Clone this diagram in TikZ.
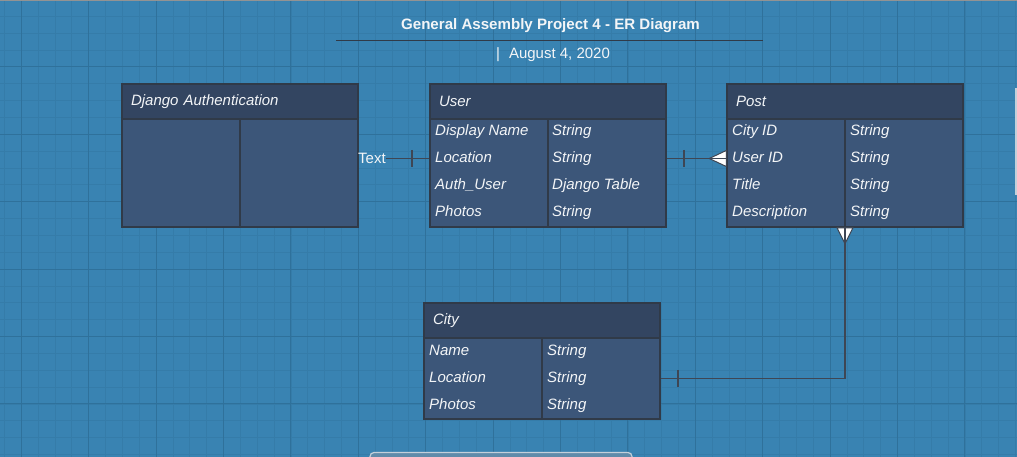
\documentclass[tikz,border=0pt]{standalone}
\usepackage{fontspec}
\setmainfont{Liberation Sans}

\definecolor{bgblue}{RGB}{57,131,178}
\definecolor{gridminor}{RGB}{53,124,169}
\definecolor{gridmajor}{RGB}{47,113,155}
\definecolor{hdrfill}{RGB}{51,69,97}
\definecolor{bodyfill}{RGB}{60,86,121}
\definecolor{tblline}{RGB}{48,58,72}
\definecolor{connline}{RGB}{62,70,84}
\definecolor{txtwhite}{RGB}{243,245,247}
\definecolor{panelline}{RGB}{196,208,218}
\definecolor{panelfill}{RGB}{96,139,170}

\newcommand{\fsz}{\fontsize{15}{18}\selectfont}

\begin{document}
\begin{tikzpicture}[x=1pt,y=-1pt,
    tblhead/.style={draw=tblline, fill=hdrfill, line width=1.5pt, minimum width=236pt, minimum height=35pt,
      text width=218pt, inner xsep=9pt, inner ysep=0pt, align=left, text=txtwhite, font=\fsz\itshape},
    tblbody/.style={draw=tblline, fill=bodyfill, line width=1.5pt, minimum width=236pt, inner sep=0pt},
    field/.style={anchor=base west, inner sep=0pt, text=txtwhite, font=\fsz\itshape},
    conn/.style={draw=connline, line width=1.8pt},
    crowfoot/.style={fill=white, draw=connline, line width=1pt}]
   \useasboundingbox (0,0) rectangle (1017,457);
   \clip (0,0) rectangle (1017,457);
   \fill[bgblue] (0,0) rectangle (1017,457);
   % grid
   \foreach \k in {0,...,60}
     \draw[gridminor, line width=0.8pt] ({4.45+16.85*\k},0) -- ({4.45+16.85*\k},457);
   \foreach \k in {0,...,27}
     \draw[gridminor, line width=0.8pt] (0,{-0.5+16.85*\k}) -- (1017,{-0.5+16.85*\k});
   \foreach \k in {0,...,14}
     \draw[gridmajor, line width=1pt] ({21.3+67.4*\k},0) -- ({21.3+67.4*\k},457);
   \foreach \k in {0,...,6}
     \draw[gridmajor, line width=1pt] (0,{-0.5+67.4*\k}) -- (1017,{-0.5+67.4*\k});
   \draw[gray!85, line width=3pt] (0,0) -- (1017,0);

   % title
   \node[anchor=base, inner sep=0pt, text=txtwhite, font=\fontsize{15.1}{18}\selectfont\bfseries] (ttl) at (550.5,29.3)
     {General Assembly Project 4 - ER Diagram};
   \draw[tblline, line width=1.6pt] (336,40.5) -- (763,40.5);
   \node[anchor=base, inner sep=0pt, text=txtwhite, font=\fsz] (dt) at (553,59) {|\hspace{9pt}August 4, 2020};

   % Django Authentication
   \node[tblhead] (djh) at (240,101.5) {Django Authentication};
   \node[tblbody, minimum height=108pt] (djb) at (240,173) {};
   \draw[tblline, line width=1.5pt] (djb.north) -- (djb.south);

   % User
   \node[tblhead] (userh) at (548,101.5) {User};
   \node[tblbody, minimum height=108pt] (userb) at (548,173) {};
   \draw[tblline, line width=1.5pt] (userb.north) -- (userb.south);
   \node[field] (u1) at (435,136) {Display Name};
   \node[field] (u1t) at (552,136) {String};
   \node[field] (u2) at (435,163) {Location};
   \node[field] (u2t) at (552,163) {String};
   \node[field] (u3) at (435,190) {Auth\_User};
   \node[field] (u3t) at (552,190) {Django Table};
   \node[field] (u4) at (435,217) {Photos};
   \node[field] (u4t) at (552,217) {String};

   % Post
   \node[tblhead] (posth) at (845,101.5) {Post};
   \node[tblbody, minimum height=108pt] (postb) at (845,173) {};
   \draw[tblline, line width=1.5pt] (postb.north) -- (postb.south);
   \node[field] (p1) at (732,136) {City ID};
   \node[field] (p1t) at (850,136) {String};
   \node[field] (p2) at (732,163) {User ID};
   \node[field] (p2t) at (850,163) {String};
   \node[field] (p3) at (732,190) {Title};
   \node[field] (p3t) at (850,190) {String};
   \node[field] (p4) at (732,217) {Description};
   \node[field] (p4t) at (850,217) {String};

   % City
   \node[tblhead] (cityh) at (542,320.5) {City};
   \node[tblbody, minimum height=81pt] (cityb) at (542,378.5) {};
   \draw[tblline, line width=1.5pt] (cityb.north) -- (cityb.south);
   \node[field] (c1) at (429,355) {Name};
   \node[field] (c1t) at (547,355) {String};
   \node[field] (c2) at (429,382) {Location};
   \node[field] (c2t) at (547,382) {String};
   \node[field] (c3) at (429,409) {Photos};
   \node[field] (c3t) at (547,409) {String};

   % relations
   \node[anchor=west, inner sep=0pt, text=txtwhite, font=\fsz] (txt) at (358,158.5) {Text};
   \filldraw[crowfoot] (txt -| postb.west) ++(0,-8) -- ++(-17,8) -- ++(17,8) -- cycle;
   \filldraw[crowfoot] (postb.south) ++(-8,0) -- ++(8,16) -- ++(8,-16) -- cycle;
   \draw[conn] (txt) -- (txt -| userb.west);
   \draw[conn] (txt -| userb.east) -- (txt -| postb.west);
   \draw[conn] (postb.south) |- (cityb.east);
   \draw[conn] (txt -| userb.west) ++(-17,-8.5) -- ++(0,17);
   \draw[conn] (txt -| userb.east) ++(17,-8.5) -- ++(0,17);
   \draw[conn] (cityb.east) ++(17,-8.5) -- ++(0,17);

   % panels at the edges
   \draw[draw=panelline, fill=panelfill, line width=1.2pt, rounded corners=4pt] (370,452.5) rectangle (632,475);
   \fill[panelline] (1015,88) rectangle (1022,195);
 \end{tikzpicture}
\end{document}
